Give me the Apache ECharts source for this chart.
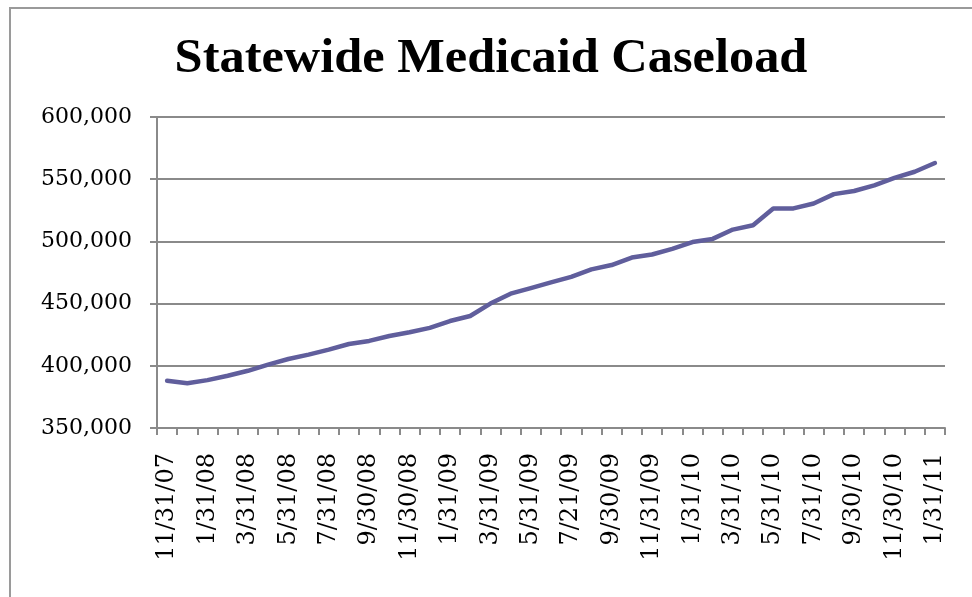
<!DOCTYPE html>
<html>
<head>
<meta charset="utf-8">
<script src="https://cdn.jsdelivr.net/npm/echarts@6/dist/echarts.min.js"></script>
<style>
html,body{margin:0;padding:0;background:#fff;}
#chart{width:972px;height:597px;}
</style>
</head>
<body>
<div id="chart"></div>
<script>
var titleText = 'Statewide Medicaid Caseload';
var categories = ['11/31/07','12/31/07','1/31/08','2/29/08','3/31/08','4/30/08','5/31/08','6/30/08','7/31/08','8/31/08','9/30/08','10/31/08','11/30/08','12/31/08','1/31/09','2/28/09','3/31/09','4/30/09','5/31/09','6/30/09','7/21/09','8/31/09','9/30/09','10/31/09','11/31/09','12/31/09','1/31/10','2/28/10','3/31/10','4/30/10','5/31/10','6/30/10','7/31/10','8/31/10','9/30/10','10/31/10','11/30/10','12/31/10','1/31/11'];
var caseload = [388000,386000,388500,392000,396000,401000,405500,409000,413000,417500,420000,424000,427000,430500,436000,440000,450000,458000,462500,467000,471500,477500,481000,487000,489500,494000,499500,502000,509500,513000,526500,526500,530500,538000,540500,545000,551000,556000,563000];
var yMin = 350000, yMax = 600000, yStep = 50000;

var chart = echarts.init(document.getElementById('chart'));
var grey = '#8a8a8a';
chart.setOption({
  backgroundColor: '#ffffff',
  animation: false,
  graphic: [
    {type:'rect', shape:{x:10,y:8,width:975,height:600}, style:{fill:'none', stroke:'#9a9a9a', lineWidth:2}, silent:true},
    {type:'text', x:491, y:60, scaleX:1.05, style:{text:titleText, font:'bold 48px "Liberation Serif", serif', fill:'#000', textAlign:'center', textVerticalAlign:'middle'}}
  ],
  grid: {left:157, right:27, top:117, bottom:169, containLabel:false},
  xAxis: {
    type:'category', data:categories, boundaryGap:true,
    axisLine:{show:true, lineStyle:{color:grey, width:2}},
    axisTick:{show:true, interval:0, length:7, lineStyle:{color:grey, width:2}},
    axisLabel:{interval:1, rotate:90, margin:25, color:'#000', fontFamily:'"DejaVu Serif", serif', fontSize:24},
    splitLine:{show:false}
  },
  yAxis: {
    type:'value', min:yMin, max:yMax, interval:yStep,
    axisLine:{show:true, lineStyle:{color:grey, width:2}},
    axisTick:{show:true, length:7, lineStyle:{color:grey, width:2}},
    axisLabel:{margin:25, color:'#000', fontFamily:'"DejaVu Serif", serif', fontSize:22,
      formatter:function(v){return v.toLocaleString('en-US');}},
    splitLine:{show:true, lineStyle:{color:grey, width:2}}
  },
  series: [{
    type:'line', data:caseload, showSymbol:false, symbol:'none',
    lineStyle:{color:'#605e9c', width:4.5, cap:'round', join:'round'},
    itemStyle:{color:'#605e9c'}
  }]
});
</script>
</body>
</html>
